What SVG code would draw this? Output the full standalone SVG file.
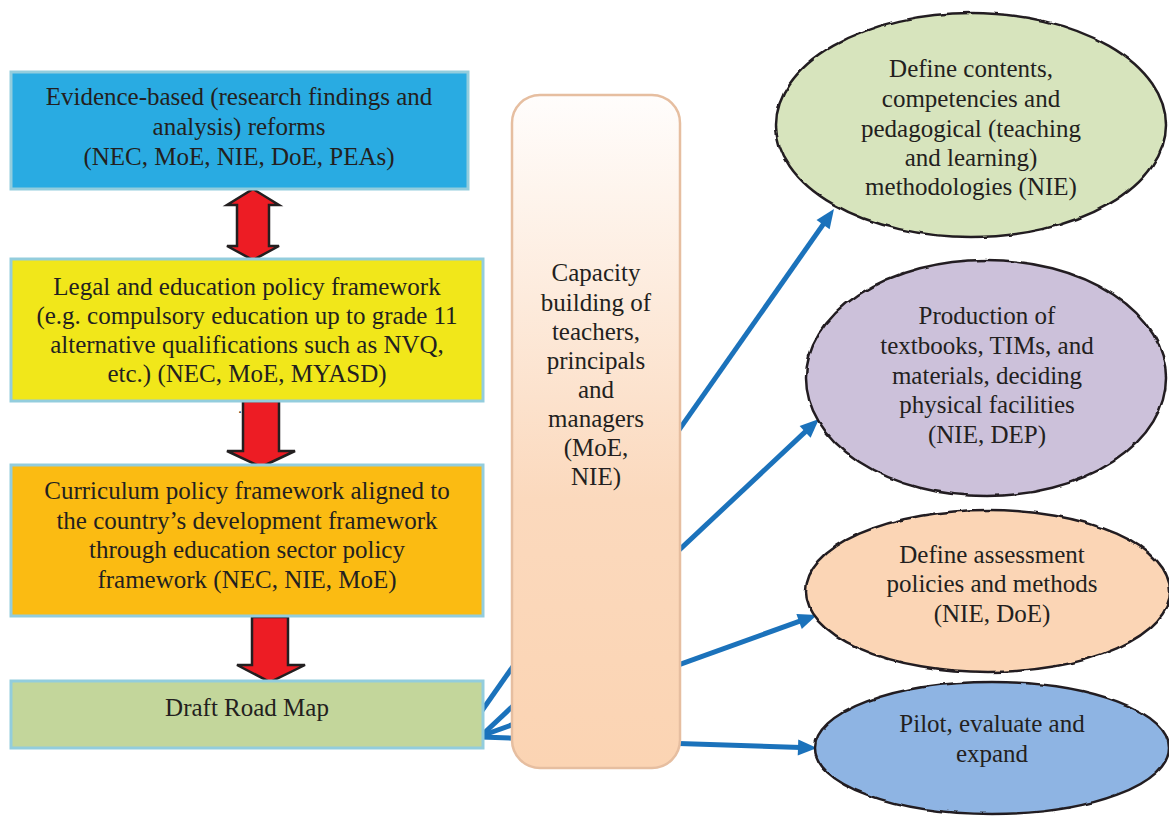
<svg xmlns="http://www.w3.org/2000/svg" width="1169" height="819" viewBox="0 0 1169 819">
  <style>
    .t { font-family: "Liberation Serif", Tinos, "Times New Roman", Times, "Nimbus Roman", "Nimbus Roman No9 L", "DejaVu Serif", serif; font-size: 25px; fill: #231f20; text-anchor: middle; }
    .box { stroke: #93cddd; stroke-width: 3; }
    .red { fill: #ed1c24; stroke: #231f20; stroke-width: 2.5; stroke-linejoin: miter; }
    .oval { stroke: #231f20; stroke-width: 2.5; filter: url(#wobble); }
    .conn { stroke: #1b72bb; stroke-width: 5; fill: none; marker-end: url(#head); }
  </style>
  <defs>
    <marker id="head" markerUnits="userSpaceOnUse" orient="auto" refX="0" refY="0" markerWidth="40" markerHeight="40" overflow="visible">
      <path d="M-3,-8 L16,0 L-3,8 z" fill="#1b72bb"/>
    </marker>
    <linearGradient id="capsuleFill" x1="0" y1="0" x2="0" y2="1">
      <stop offset="0" stop-color="#fffdfc"/>
      <stop offset="0.6" stop-color="#fbd9bd"/>
      <stop offset="1" stop-color="#fbd4b3"/>
    </linearGradient>
    <filter id="wobble" x="-5%" y="-5%" width="110%" height="110%">
      <feTurbulence type="fractalNoise" baseFrequency="0.06" numOctaves="2" seed="3" result="n"/>
      <feDisplacementMap in="SourceGraphic" in2="n" scale="3" xChannelSelector="R" yChannelSelector="G"/>
    </filter>
  </defs>

  <rect width="1169" height="819" fill="#ffffff"/>

  <!-- connectors from the road map to the activity ovals (pass behind the capacity pillar) -->
  <g id="connectors">
    <line class="conn" x1="481" y1="712" x2="824.8" y2="222.1"/>
    <line class="conn" x1="481" y1="736" x2="807.3" y2="429.9"/>
    <line class="conn" x1="481" y1="736" x2="801.9" y2="620.4"/>
    <line class="conn" x1="481" y1="737" x2="801" y2="747.5"/>
  </g>

  <!-- flow arrows between the policy boxes -->
  <g id="flow-arrows">
    <polygon class="red" points="253,189 279,205 269,205 269,246 279,246 253,260 227,246 237,246 237,205 227,205"/>
    <polygon class="red" points="243,401 279,401 279,451 295,451 261,467 227,451 243,451"/>
    <polygon class="red" points="252,617 288,617 288,665 305,665 270,682 237,665 252,665"/>
  </g>

  <g id="evidence">
    <rect class="box" x="11" y="72" width="457" height="117" fill="#29abe2"/>
    <text class="t" x="239" y="105">Evidence-based (research findings and</text>
    <text class="t" x="239" y="135">analysis) reforms</text>
    <text class="t" x="239" y="165">(NEC, MoE, NIE, DoE, PEAs)</text>
  </g>

  <g id="legal">
    <rect class="box" x="11" y="259" width="472" height="142" fill="#f1e71a"/>
    <text class="t" x="247" y="295">Legal and education policy framework</text>
    <text class="t" x="247" y="324">(e.g. compulsory education up to grade 11</text>
    <text class="t" x="247" y="353">alternative qualifications such as NVQ,</text>
    <text class="t" x="247" y="382">etc.) (NEC, MoE, MYASD)</text>
    <text class="t" x="240" y="413" style="font-size:14px">.</text>
  </g>

  <g id="curriculum">
    <rect class="box" x="11" y="465" width="472" height="151" fill="#fbbb12"/>
    <text class="t" x="247" y="499">Curriculum policy framework aligned to</text>
    <text class="t" x="247" y="529">the country’s development framework</text>
    <text class="t" x="247" y="558">through education sector policy</text>
    <text class="t" x="247" y="588">framework (NEC, NIE, MoE)</text>
  </g>

  <g id="roadmap">
    <rect class="box" x="11" y="681" width="472" height="67" fill="#c3d69b"/>
    <text class="t" x="247" y="716">Draft Road Map</text>
  </g>

  <g id="capacity">
    <rect x="512" y="95" width="168" height="673" rx="28" ry="28" fill="url(#capsuleFill)" stroke="#e6bea0" stroke-width="2.5"/>
    <text class="t" x="596" y="281">Capacity</text>
    <text class="t" x="596" y="311">building of</text>
    <text class="t" x="596" y="340">teachers,</text>
    <text class="t" x="596" y="369">principals</text>
    <text class="t" x="596" y="398">and</text>
    <text class="t" x="596" y="427">managers</text>
    <text class="t" x="596" y="456">(MoE,</text>
    <text class="t" x="596" y="485">NIE)</text>
  </g>

  <g id="contents">
    <ellipse class="oval" cx="971" cy="125" rx="195" ry="112" fill="#d7e4bd"/>
    <text class="t" x="971" y="77">Define contents,</text>
    <text class="t" x="971" y="107">competencies and</text>
    <text class="t" x="971" y="137">pedagogical (teaching</text>
    <text class="t" x="971" y="166">and learning)</text>
    <text class="t" x="971" y="195">methodologies (NIE)</text>
  </g>

  <g id="production">
    <ellipse class="oval" cx="986" cy="378" rx="180" ry="118" fill="#ccc1da"/>
    <text class="t" x="987" y="324">Production of</text>
    <text class="t" x="987" y="354">textbooks, TIMs, and</text>
    <text class="t" x="987" y="384">materials, deciding</text>
    <text class="t" x="987" y="413">physical facilities</text>
    <text class="t" x="987" y="443">(NIE, DEP)</text>
  </g>

  <g id="assessment">
    <ellipse class="oval" cx="988" cy="591" rx="182" ry="81" fill="#fbd5b5"/>
    <text class="t" x="992" y="563">Define assessment</text>
    <text class="t" x="992" y="592">policies and methods</text>
    <text class="t" x="992" y="622">(NIE, DoE)</text>
  </g>

  <g id="pilot">
    <ellipse class="oval" cx="992" cy="748" rx="177" ry="66" fill="#8eb4e3"/>
    <text class="t" x="992" y="732">Pilot, evaluate and</text>
    <text class="t" x="992" y="762">expand</text>
  </g>
</svg>
